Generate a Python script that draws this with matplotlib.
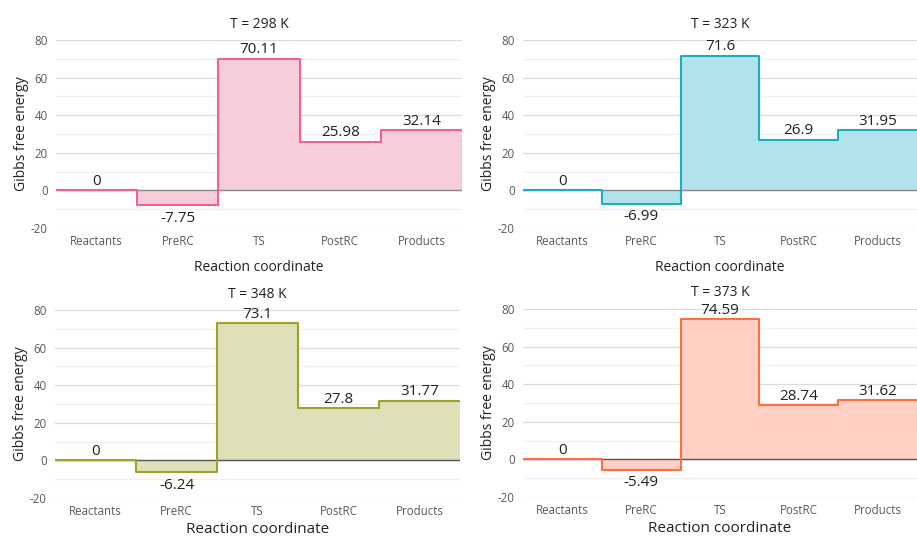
import matplotlib
matplotlib.use("Agg")
import matplotlib.pyplot as plt
from matplotlib.ticker import MultipleLocator

plt.rcParams['font.family'] = ['Open Sans', 'DejaVu Sans']
plt.rcParams['axes.unicode_minus'] = False

categories = ["Reactants", "PreRC", "TS", "PostRC", "Products"]
titles = ["T = 298 K", "T = 323 K", "T = 348 K", "T = 373 K"]
g298 = [0, -7.75, 70.11, 25.98, 32.14]
g323 = [0, -6.99, 71.6, 26.9, 31.95]
g348 = [0, -6.24, 73.1, 27.8, 31.77]
g373 = [0, -5.49, 74.59, 28.74, 31.62]
labels298 = ["0", "-7.75", "70.11", "25.98", "32.14"]
labels323 = ["0", "-6.99", "71.6", "26.9", "31.95"]
labels348 = ["0", "-6.24", "73.1", "27.8", "31.77"]
labels373 = ["0", "-5.49", "74.59", "28.74", "31.62"]

series = [g298, g323, g348, g373]
series_labels = [labels298, labels323, labels348, labels373]
edge_colors = ["#f06292", "#1aaec6", "#9ea22a", "#ff6e40"]
fill_colors = ["#f8cddb", "#b2e3ea", "#dfdfb8", "#ffd0c3"]
zero_colors = ["#8a8a8a", "#8a8a8a", "#555555", "#555555"]
xlabel_sizes = [10, 10, 11, 11]
xlabel_pads = [9, 9, 3, 3]

W, H = 917, 538
fig = plt.figure(figsize=(W / 100, H / 100), dpi=100)

boxes = [
    (56, 462, 40, 228),
    (523, 917, 40, 228),
    (55, 460, 310, 498),
    (523, 917, 309, 497),
]

for k, (x0, x1, ytop, ybot) in enumerate(boxes):
    ax = fig.add_axes([x0 / W, 1 - ybot / H, (x1 - x0) / W, (ybot - ytop) / H])
    vals = series[k]
    n = len(vals)
    xs = list(range(n + 1))
    ys = vals + [vals[-1]]
    ax.fill_between(xs, ys, 0, step="post", color=fill_colors[k], linewidth=0, zorder=2)
    ax.axhline(0, color=zero_colors[k], linewidth=1.0, zorder=3)
    ax.step(xs, ys, where="post", color=edge_colors[k], linewidth=1.5, zorder=4)
    for i, v in enumerate(vals):
        if v < 0:
            ax.annotate(series_labels[k][i], (i + 0.5, v), xytext=(0, -4), textcoords="offset points",
                        ha="center", va="top", fontsize=11, color="#222222")
        else:
            ax.annotate(series_labels[k][i], (i + 0.5, v), xytext=(0, 1), textcoords="offset points",
                        ha="center", va="bottom", fontsize=11, color="#222222")
    ax.set_xlim(0, n)
    ax.set_ylim(-20, 80)
    ax.yaxis.set_major_locator(MultipleLocator(20))
    ax.yaxis.set_minor_locator(MultipleLocator(10))
    ax.grid(True, which="major", axis="y", color="#dcdcdc", linewidth=0.9, zorder=0)
    ax.grid(True, which="minor", axis="y", color="#f0f0f0", linewidth=0.9, zorder=0)
    ax.set_axisbelow(True)
    ax.set_xticks([i + 0.5 for i in range(n)])
    ax.set_xticklabels(categories)
    ax.tick_params(axis="both", which="both", length=0, labelsize=8.3, labelcolor="#595959")
    ax.tick_params(axis="y", pad=6)
    ax.tick_params(axis="x", pad=5)
    for s in ax.spines.values():
        s.set_visible(False)
    ax.set_title(titles[k], fontsize=10, pad=9, color="#222222")
    ax.set_ylabel("Gibbs free energy", fontsize=10, color="#222222", labelpad=1.5)
    ax.set_xlabel("Reaction coordinate", fontsize=xlabel_sizes[k], color="#222222", labelpad=xlabel_pads[k])

fig.savefig("out.png", dpi=100)
